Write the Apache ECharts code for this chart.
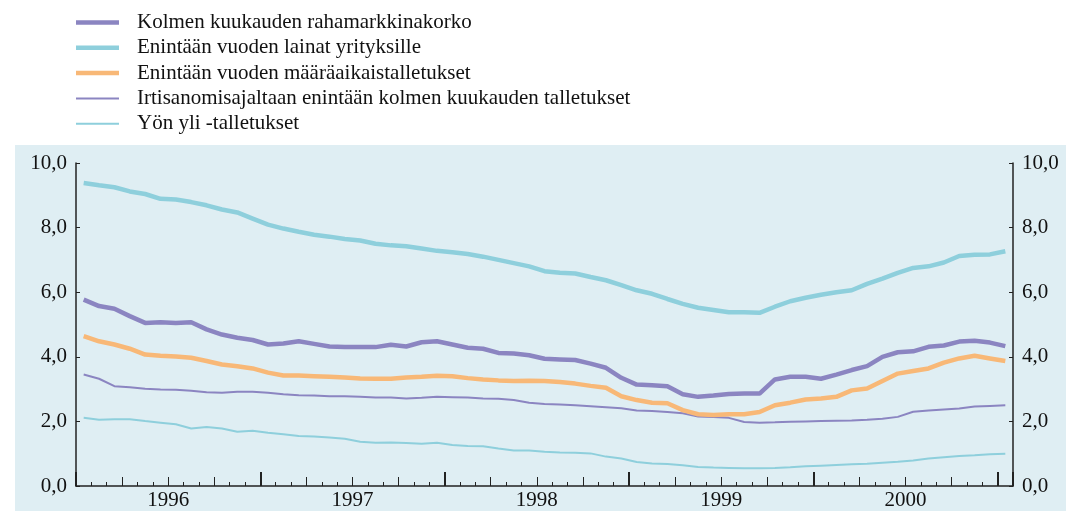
<!DOCTYPE html>
<html>
<head>
<meta charset="utf-8">
<script src="https://cdn.jsdelivr.net/npm/echarts@6/dist/echarts.min.js"></script>
<style>
  html, body { margin: 0; padding: 0; background: #fff; }
  #korot { width: 1066px; height: 511px; }
</style>
</head>
<body>
<div id="korot"></div>
<script>
    // kuukaudet 1/1996 - 1/2001
    var months = [];
    for (var k = 0; k < 61; k++) {
        months.push((1996 + Math.floor(k / 12)) + '-' + (k % 12 + 1));
    }
    var yearLabels = ['1996', '1997', '1998', '1999', '2000'];

    var rahamarkkinakorko = [5.77, 5.57, 5.49, 5.26, 5.05, 5.07, 5.05, 5.07, 4.85, 4.69, 4.59, 4.52,
        4.38, 4.41, 4.48, 4.40, 4.32, 4.30, 4.30, 4.30, 4.37, 4.32, 4.45, 4.48,
        4.38, 4.28, 4.25, 4.12, 4.10, 4.05, 3.94, 3.92, 3.90, 3.79, 3.66, 3.35,
        3.14, 3.12, 3.09, 2.84, 2.76, 2.80, 2.85, 2.86, 2.86, 3.30, 3.38, 3.38,
        3.32, 3.45, 3.59, 3.71, 4.00, 4.14, 4.17, 4.31, 4.35, 4.47, 4.50, 4.44, 4.33];

    var lainatYrityksille = [9.38, 9.31, 9.25, 9.12, 9.04, 8.89, 8.87, 8.79, 8.69, 8.56, 8.47, 8.28,
        8.09, 7.97, 7.87, 7.78, 7.72, 7.65, 7.60, 7.50, 7.45, 7.42, 7.35, 7.28,
        7.24, 7.18, 7.10, 7.00, 6.90, 6.80, 6.65, 6.60, 6.58, 6.47, 6.37, 6.22,
        6.06, 5.95, 5.79, 5.64, 5.52, 5.45, 5.38, 5.38, 5.36, 5.55, 5.72, 5.83,
        5.92, 6.00, 6.06, 6.26, 6.42, 6.60, 6.75, 6.80, 6.92, 7.12, 7.16, 7.17, 7.27];

    var maaraaikaistalletukset = [4.64, 4.48, 4.38, 4.25, 4.07, 4.03, 4.01, 3.97, 3.87, 3.76, 3.71, 3.64,
        3.51, 3.42, 3.42, 3.40, 3.38, 3.36, 3.33, 3.32, 3.32, 3.36, 3.38, 3.41,
        3.40, 3.34, 3.30, 3.27, 3.25, 3.26, 3.25, 3.22, 3.17, 3.10, 3.04, 2.78,
        2.66, 2.58, 2.56, 2.35, 2.22, 2.20, 2.22, 2.22, 2.29, 2.50, 2.58, 2.68,
        2.71, 2.76, 2.96, 3.02, 3.25, 3.48, 3.56, 3.64, 3.82, 3.95, 4.03, 3.95, 3.87];

    var irtisanomistalletukset = [3.45, 3.32, 3.09, 3.06, 3.01, 2.99, 2.98, 2.95, 2.90, 2.89, 2.92, 2.92,
        2.89, 2.84, 2.81, 2.80, 2.78, 2.78, 2.76, 2.74, 2.74, 2.71, 2.73, 2.76,
        2.75, 2.74, 2.71, 2.70, 2.66, 2.58, 2.54, 2.52, 2.50, 2.47, 2.44, 2.41,
        2.34, 2.32, 2.29, 2.25, 2.15, 2.14, 2.11, 1.98, 1.96, 1.97, 1.99, 2.00,
        2.01, 2.02, 2.03, 2.05, 2.08, 2.14, 2.30, 2.34, 2.37, 2.40, 2.46, 2.48, 2.50];

    var yonYli = [2.11, 2.05, 2.07, 2.07, 2.01, 1.96, 1.91, 1.78, 1.83, 1.78, 1.68, 1.71,
        1.65, 1.60, 1.55, 1.53, 1.50, 1.46, 1.37, 1.34, 1.35, 1.33, 1.31, 1.34,
        1.27, 1.24, 1.23, 1.16, 1.10, 1.10, 1.06, 1.04, 1.03, 1.01, 0.91, 0.85,
        0.74, 0.70, 0.68, 0.64, 0.59, 0.57, 0.56, 0.55, 0.55, 0.56, 0.58, 0.61,
        0.63, 0.65, 0.67, 0.69, 0.72, 0.75, 0.79, 0.85, 0.89, 0.93, 0.95, 0.98, 1.00];

    var seriesNames = [
        'Kolmen kuukauden rahamarkkinakorko',
        'Enintään vuoden lainat yrityksille',
        'Enintään vuoden määräaikaistalletukset',
        'Irtisanomisajaltaan enintään kolmen kuukauden talletukset',
        'Yön yli -talletukset'
    ];

    var violetti = '#8b85c1';
    var turkoosi = '#8ecfdc';
    var oranssi = '#f8b877';
    var fontti = 'Liberation Serif';
    var akseli = '#222';

    var dom = document.getElementById('korot');
    var myChart = echarts.init(dom, null, { renderer: 'canvas' });

    function pilkku(v) {
        return v.toFixed(1).replace('.', ',');
    }

    function viiva(name, data, color, width) {
        return {
            name: name,
            type: 'line',
            data: data,
            xAxisIndex: 0,
            yAxisIndex: 0,
            symbol: 'none',
            animation: false,
            itemStyle: { color: color },
            lineStyle: { color: color, width: width }
        };
    }

    function tickAxis(len, width, every) {
        return {
            type: 'category',
            data: months,
            position: 'bottom',
            boundaryGap: true,
            axisLine: { show: false },
            axisLabel: { show: false },
            axisTick: {
                show: true,
                inside: true,
                length: len,
                interval: function (idx) { return idx % every === 0; },
                lineStyle: { color: akseli, width: width }
            },
            splitLine: { show: false }
        };
    }

    var yAxisBase = function (pos) {
        return {
            type: 'value',
            position: pos,
            min: 0,
            max: 10,
            interval: 2,
            axisLine: { show: true, lineStyle: { color: akseli, width: 1.5 } },
            axisTick: { show: true, inside: true, length: 4, lineStyle: { color: akseli } },
            axisLabel: {
                margin: 9,
                color: '#111',
                fontFamily: fontti,
                fontSize: 21,
                formatter: pilkku
            },
            splitLine: { show: false }
        };
    };

    var option = {
        backgroundColor: '#fff',
        animation: false,
        graphic: [{
            type: 'rect',
            z: -10,
            silent: true,
            shape: { x: 15, y: 145, width: 1051, height: 366 },
            style: { fill: '#dfeef3' }
        }],
        legend: {
            orient: 'vertical',
            left: 76,
            top: 12,
            padding: 0,
            itemWidth: 43,
            itemHeight: 20,
            itemGap: 4.3,
            itemStyle: { borderWidth: 0 },
            textStyle: {
                fontFamily: fontti,
                fontSize: 21,
                color: '#111',
                padding: [0, 0, 0, 13]
            },
            data: [
                { name: seriesNames[0], icon: 'path://M0,0h43v4.5h-43z' },
                { name: seriesNames[1], icon: 'path://M0,0h43v4.5h-43z' },
                { name: seriesNames[2], icon: 'path://M0,0h43v4.5h-43z' },
                { name: seriesNames[3], icon: 'path://M0,0h43v2h-43z' },
                { name: seriesNames[4], icon: 'path://M0,0h43v2h-43z' }
            ]
        },
        grid: { left: 76, right: 53, top: 163, bottom: 24 },
        xAxis: [
            {
                type: 'category',
                data: months,
                position: 'bottom',
                boundaryGap: true,
                axisLine: { show: true, lineStyle: { color: akseli, width: 1.5 } },
                axisLabel: { show: false },
                axisTick: {
                    show: true,
                    inside: true,
                    length: 4,
                    interval: 0,
                    lineStyle: { color: akseli, width: 1 }
                },
                splitLine: { show: false }
            },
            tickAxis(9, 1, 3),
            tickAxis(14, 2, 12),
            {
                type: 'value',
                position: 'bottom',
                min: 0,
                max: 61,
                interval: 6,
                axisLine: { show: false },
                axisTick: { show: false },
                splitLine: { show: false },
                axisLabel: {
                    margin: 4,
                    color: '#111',
                    fontFamily: fontti,
                    fontSize: 21,
                    showMinLabel: true,
                    showMaxLabel: true,
                    formatter: function (v) {
                        if (v % 12 === 6) {
                            return yearLabels[(v - 6) / 12] || '';
                        }
                        return '';
                    }
                }
            }
        ],
        yAxis: [yAxisBase('left'), yAxisBase('right')],
        series: [
            viiva(seriesNames[4], yonYli, turkoosi, 2),
            viiva(seriesNames[3], irtisanomistalletukset, violetti, 2),
            viiva(seriesNames[2], maaraaikaistalletukset, oranssi, 4.5),
            viiva(seriesNames[1], lainatYrityksille, turkoosi, 4.5),
            viiva(seriesNames[0], rahamarkkinakorko, violetti, 4.5)
        ]
    };

    option && myChart.setOption(option);
</script>
</body>
</html>
